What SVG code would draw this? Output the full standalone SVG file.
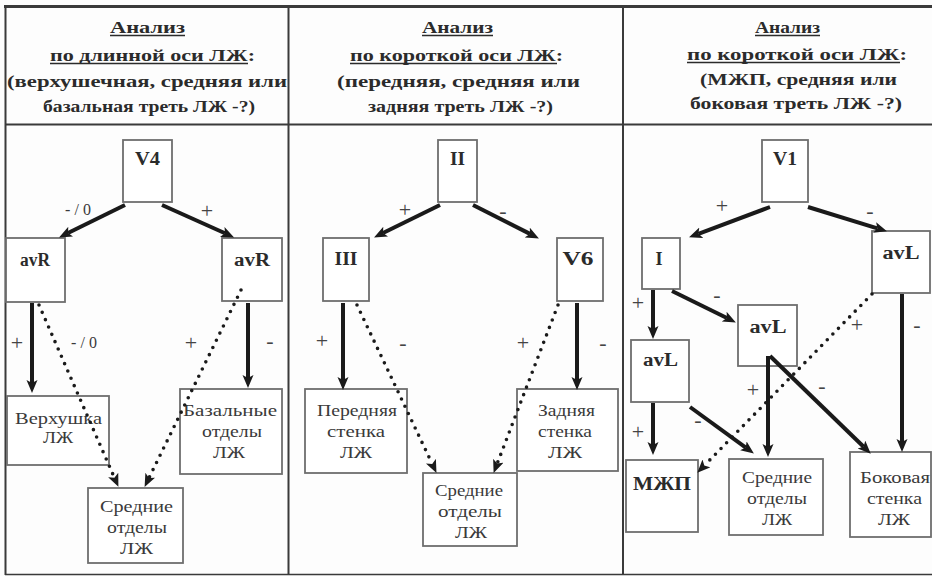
<svg xmlns="http://www.w3.org/2000/svg" width="932" height="576" viewBox="0 0 932 576">
<defs>
<marker id="ah" markerUnits="userSpaceOnUse" markerWidth="14" markerHeight="12" refX="3" refY="5.5" orient="auto">
<path d="M0,0 L13,5.5 L0,11 L3,5.5 z" fill="#1a1a1a"/>
</marker>
<style>
.frame{stroke:#3a3a3a;fill:none}
.hd{font-family:'Liberation Serif','DejaVu Serif',serif;font-weight:bold;font-size:17px;fill:#2b2b2b}
.ul{stroke:#2b2b2b;stroke-width:1.3}
.box{fill:#fff;stroke:#6e6e6e;stroke-width:1.8}
.lb{font-family:'Liberation Serif','DejaVu Serif',serif;font-weight:bold;font-size:18px;fill:#2b2b2b;text-anchor:middle}
.tx{font-family:'Liberation Serif','DejaVu Serif',serif;font-size:16px;fill:#3a3a3a;text-anchor:middle}
.sg{font-family:'Liberation Serif','DejaVu Serif',serif;font-size:22px;fill:#444;text-anchor:middle}
.sol{stroke:#1a1a1a;stroke-width:4;fill:none;marker-end:url(#ah)}
.dot{stroke:#1a1a1a;stroke-width:3.6;stroke-linecap:round;stroke-dasharray:0 8;fill:none;marker-end:url(#ah)}
</style>
</defs>
<rect width="932" height="576" fill="#fdfdfd"/>

<g id="frame">
<line class="frame" x1="4" y1="6.5" x2="932" y2="6.5" stroke-width="3"/>
<line class="frame" x1="5.5" y1="6" x2="5.5" y2="575" stroke-width="2"/>
<line class="frame" x1="5" y1="124.5" x2="932" y2="124.5" stroke-width="2" stroke="#555"/>
<line class="frame" x1="288.5" y1="6" x2="288.5" y2="575" stroke-width="2" stroke="#555"/>
<line class="frame" x1="623" y1="6" x2="623" y2="575" stroke-width="2" stroke="#555"/>
<line class="frame" x1="5" y1="574.5" x2="932" y2="574.5" stroke-width="1.5" stroke="#999"/>
</g>

<g id="header1">
<text class="hd" x="110" y="33" textLength="75" lengthAdjust="spacingAndGlyphs">Анализ</text>
<line class="ul" x1="110" y1="35.5" x2="185" y2="35.5"/>
<text class="hd" x="50" y="61" textLength="205" lengthAdjust="spacingAndGlyphs">по длинной оси ЛЖ:</text>
<line class="ul" x1="50" y1="63.5" x2="248" y2="63.5"/>
<text class="hd" x="7" y="87" textLength="280" lengthAdjust="spacingAndGlyphs">(верхушечная, средняя или</text>
<text class="hd" x="43" y="112" textLength="212" lengthAdjust="spacingAndGlyphs">базальная треть ЛЖ -?)</text>
</g>
<g id="header2">
<text class="hd" x="422" y="33" textLength="71" lengthAdjust="spacingAndGlyphs">Анализ</text>
<line class="ul" x1="422" y1="35.5" x2="493" y2="35.5"/>
<text class="hd" x="350" y="61" textLength="213" lengthAdjust="spacingAndGlyphs">по короткой оси ЛЖ:</text>
<line class="ul" x1="350" y1="63.5" x2="557" y2="63.5"/>
<text class="hd" x="337" y="87" textLength="243" lengthAdjust="spacingAndGlyphs">(передняя, средняя или</text>
<text class="hd" x="368" y="112" textLength="185" lengthAdjust="spacingAndGlyphs">задняя треть ЛЖ -?)</text>
</g>
<g id="header3">
<text class="hd" x="755" y="33" textLength="65" lengthAdjust="spacingAndGlyphs">Анализ</text>
<line class="ul" x1="755" y1="35.5" x2="820" y2="35.5"/>
<text class="hd" x="687" y="60" textLength="220" lengthAdjust="spacingAndGlyphs">по короткой оси ЛЖ:</text>
<line class="ul" x1="687" y1="62.5" x2="900" y2="62.5"/>
<text class="hd" x="700" y="85" textLength="197" lengthAdjust="spacingAndGlyphs">(МЖП, средняя или</text>
<text class="hd" x="690" y="109" textLength="212" lengthAdjust="spacingAndGlyphs">боковая треть ЛЖ -?)</text>
</g>

<g id="n-V4"><rect class="box" x="123" y="140" width="49" height="62"/><text class="lb" x="147.5" y="165" textLength="25" lengthAdjust="spacingAndGlyphs">V4</text></g>
<g id="n-avR1"><rect class="box" x="6" y="238" width="59" height="64"/><text class="lb" x="35" y="266" textLength="30" lengthAdjust="spacingAndGlyphs">avR</text></g>
<g id="n-avR2"><rect class="box" x="222" y="238" width="60" height="63"/><text class="lb" x="252" y="266" textLength="36" lengthAdjust="spacingAndGlyphs">avR</text></g>
<g id="n-apex"><rect class="box" x="7" y="396" width="102" height="69"/><text class="tx" x="58.5" y="424" textLength="87" lengthAdjust="spacingAndGlyphs">Верхушка</text><text class="tx" x="58" y="443" textLength="30" lengthAdjust="spacingAndGlyphs">ЛЖ</text></g>
<g id="n-basal"><rect class="box" x="180" y="389" width="102" height="85"/><text class="tx" x="230" y="416" textLength="94" lengthAdjust="spacingAndGlyphs">Базальные</text><text class="tx" x="232" y="437" textLength="60" lengthAdjust="spacingAndGlyphs">отделы</text><text class="tx" x="229" y="458" textLength="32" lengthAdjust="spacingAndGlyphs">ЛЖ</text></g>
<g id="n-mid1"><rect class="box" x="88" y="488" width="95" height="75"/><text class="tx" x="136.5" y="512" textLength="73" lengthAdjust="spacingAndGlyphs">Средние</text><text class="tx" x="137" y="533" textLength="60" lengthAdjust="spacingAndGlyphs">отделы</text><text class="tx" x="136.5" y="554" textLength="33" lengthAdjust="spacingAndGlyphs">ЛЖ</text></g>

<g id="n-II"><rect class="box" x="438" y="140" width="39" height="62"/><text class="lb" x="457.5" y="165" textLength="15" lengthAdjust="spacingAndGlyphs">II</text></g>
<g id="n-III"><rect class="box" x="323" y="238" width="46" height="63"/><text class="lb" x="346" y="265" textLength="23" lengthAdjust="spacingAndGlyphs">III</text></g>
<g id="n-V6"><rect class="box" x="557" y="238" width="46" height="63"/><text class="lb" x="578" y="265" textLength="31" lengthAdjust="spacingAndGlyphs">V6</text></g>
<g id="n-ant"><rect class="box" x="305" y="389" width="102" height="84"/><text class="tx" x="357" y="416" textLength="80" lengthAdjust="spacingAndGlyphs">Передняя</text><text class="tx" x="356" y="437" textLength="58" lengthAdjust="spacingAndGlyphs">стенка</text><text class="tx" x="356" y="458" textLength="32" lengthAdjust="spacingAndGlyphs">ЛЖ</text></g>
<g id="n-post"><rect class="box" x="517" y="389" width="101" height="82"/><text class="tx" x="566.5" y="416" textLength="57" lengthAdjust="spacingAndGlyphs">Задняя</text><text class="tx" x="565" y="437" textLength="54" lengthAdjust="spacingAndGlyphs">стенка</text><text class="tx" x="565" y="458" textLength="34" lengthAdjust="spacingAndGlyphs">ЛЖ</text></g>
<g id="n-mid2"><rect class="box" x="423" y="473" width="94" height="73"/><text class="tx" x="469" y="496" textLength="68" lengthAdjust="spacingAndGlyphs">Средние</text><text class="tx" x="470" y="517" textLength="64" lengthAdjust="spacingAndGlyphs">отделы</text><text class="tx" x="471" y="538" textLength="32" lengthAdjust="spacingAndGlyphs">ЛЖ</text></g>

<g id="n-V1"><rect class="box" x="762" y="140" width="46" height="62"/><text class="lb" x="785" y="165" textLength="24" lengthAdjust="spacingAndGlyphs">V1</text></g>
<g id="n-I"><rect class="box" x="642" y="238" width="38" height="51"/><text class="lb" x="659" y="265" textLength="7" lengthAdjust="spacingAndGlyphs">I</text></g>
<g id="n-avL-r"><rect class="box" x="872" y="231" width="58" height="62"/><text class="lb" x="901" y="259" textLength="37" lengthAdjust="spacingAndGlyphs">avL</text></g>
<g id="n-avL-m"><rect class="box" x="738" y="305" width="59" height="61"/><text class="lb" x="768" y="333" textLength="37" lengthAdjust="spacingAndGlyphs">avL</text></g>
<g id="n-avL-l"><rect class="box" x="631" y="340" width="58" height="62"/><text class="lb" x="660.5" y="366" textLength="35" lengthAdjust="spacingAndGlyphs">avL</text></g>
<g id="n-IVS"><rect class="box" x="626" y="460" width="72" height="72"/><text class="lb" x="662" y="490" textLength="58" lengthAdjust="spacingAndGlyphs">МЖП</text></g>
<g id="n-mid3"><rect class="box" x="729" y="459" width="94" height="76"/><text class="tx" x="777" y="483" textLength="70" lengthAdjust="spacingAndGlyphs">Средние</text><text class="tx" x="777" y="504" textLength="60" lengthAdjust="spacingAndGlyphs">отделы</text><text class="tx" x="777" y="525" textLength="30" lengthAdjust="spacingAndGlyphs">ЛЖ</text></g>
<g id="n-lat"><rect class="box" x="850" y="452" width="81" height="85"/><text class="tx" x="895" y="483" textLength="70" lengthAdjust="spacingAndGlyphs">Боковая</text><text class="tx" x="894.5" y="504" textLength="55" lengthAdjust="spacingAndGlyphs">стенка</text><text class="tx" x="894" y="525" textLength="32" lengthAdjust="spacingAndGlyphs">ЛЖ</text></g>

<g id="connectors">
<line class="sol" x1="125" y1="205" x2="68" y2="233"/>
<line class="sol" x1="162" y1="205" x2="225" y2="233.3"/>
<line class="sol" x1="32" y1="303" x2="32" y2="383"/>
<line class="sol" x1="248" y1="303" x2="248" y2="378"/>
<line class="dot" x1="39" y1="305" x2="114.4" y2="477.7"/>
<line class="dot" x1="241" y1="290" x2="149" y2="477.9"/>
<line class="sol" x1="440" y1="205" x2="383" y2="233"/>
<line class="sol" x1="473" y1="205" x2="530" y2="233.9"/>
<line class="sol" x1="343" y1="303" x2="343" y2="380"/>
<line class="sol" x1="577" y1="303" x2="577" y2="380"/>
<line class="dot" x1="357" y1="305" x2="432.2" y2="463.9"/>
<line class="dot" x1="558" y1="305" x2="497.2" y2="463.6"/>
<line class="sol" x1="770" y1="207" x2="698.4" y2="233.8"/>
<line class="sol" x1="808" y1="207" x2="877.4" y2="228.4"/>
<line class="sol" x1="653" y1="290" x2="653" y2="329"/>
<line class="sol" x1="672" y1="291" x2="726.9" y2="318"/>
<line class="sol" x1="902" y1="294" x2="902" y2="442"/>
<line class="sol" x1="768" y1="356" x2="768" y2="447"/>
<line class="sol" x1="770" y1="356" x2="863.6" y2="446.7"/>
<line class="sol" x1="653" y1="403" x2="653" y2="445"/>
<line class="sol" x1="690" y1="407" x2="745.8" y2="447.6"/>
<line class="dot" x1="872" y1="294" x2="704.3" y2="465.6"/>
</g>

<g id="signs">
<text class="tx" x="78" y="215" font-size="17">- / 0</text>
<text class="sg" x="207" y="218">+</text>
<text class="sg" x="17" y="350">+</text>
<text class="tx" x="84" y="348" font-size="17">- / 0</text>
<text class="sg" x="191" y="350">+</text>
<text class="sg" x="270" y="348">-</text>
<text class="sg" x="405" y="217">+</text>
<text class="sg" x="503" y="218">-</text>
<text class="sg" x="322" y="348">+</text>
<text class="sg" x="403" y="350">-</text>
<text class="sg" x="523" y="350">+</text>
<text class="sg" x="603" y="350">-</text>
<text class="sg" x="722" y="213">+</text>
<text class="sg" x="870" y="218">-</text>
<text class="sg" x="638" y="310">+</text>
<text class="sg" x="717" y="302">-</text>
<text class="sg" x="857" y="332">+</text>
<text class="sg" x="917" y="332">-</text>
<text class="sg" x="753" y="397">+</text>
<text class="sg" x="822" y="393">-</text>
<text class="sg" x="638" y="439">+</text>
<text class="sg" x="698" y="427">-</text>
</g>
</svg>
